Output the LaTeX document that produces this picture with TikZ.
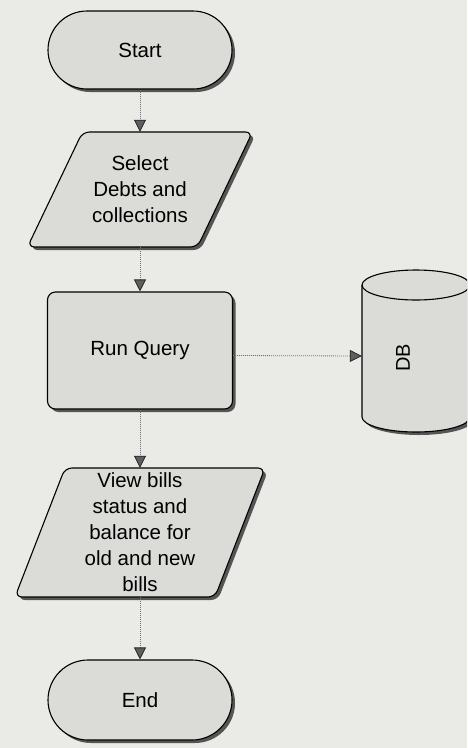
\documentclass[tikz,border=0pt]{standalone}
\usepackage{fontspec}
\setmainfont{Liberation Sans}
\usetikzlibrary{shapes.misc,shadows,arrows.meta,calc}
\definecolor{paper}{RGB}{234,234,231}
\definecolor{boxfill}{RGB}{219,219,216}
\definecolor{shadowc}{RGB}{85,85,85}
\definecolor{linec}{RGB}{115,115,115}
\definecolor{tipc}{RGB}{95,95,95}
\begin{document}
\begin{tikzpicture}[x=1pt,y=-1pt,
  txt/.style={font=\fontsize{20.5}{26}\selectfont, align=center, inner sep=0pt},
  outline/.style={draw=black, line width=1.1pt, fill=boxfill},
  shadowed/.style={drop shadow={shadow xshift=3pt, shadow yshift=-3pt, fill=shadowc, opacity=1}},
  term/.style={txt, rounded rectangle, outline, shadowed, minimum width=184pt, minimum height=78pt},
  proc/.style={txt, rectangle, rounded corners=8pt, outline, shadowed, minimum width=185pt, minimum height=117pt},
  pgshape/.style={outline, rounded corners=7pt},
  pgshadow/.style={fill=shadowc, rounded corners=7pt, shift={(3,3)}},
  flow/.style={draw=linec, line width=0.8pt, dash pattern=on 1pt off 1pt,
    -{Triangle[width=12pt,length=12pt,fill=tipc,color=black!85]}},
]
\useasboundingbox (0,0) rectangle (467,748);
\clip (0,0) rectangle (467,748);
\fill[paper] (0,0) rectangle (467,748);

% Start
\node[term] (start) at (140,50) {Start};

% Select parallelogram
\fill[pgshadow] (82.5,132) -- (252.5,132) -- (197.5,247) -- (27.5,247) -- cycle;
\draw[pgshape] (82.5,132) -- (252.5,132) -- (197.5,247) -- (27.5,247) -- cycle;
\node[txt, minimum width=170pt, minimum height=115pt] (sel) at (140,189.5) {Select\\Debts and\\collections};

% Run Query
\node[proc] (rq) at (140,350.5) {Run Query};

% DB cylinder
\fill[shadowc, shift={(3,3)}] (362,285) -- (362,417) arc[start angle=180, end angle=0, x radius=54, y radius=15] -- (470,285) arc[start angle=0, end angle=-180, x radius=54, y radius=15] -- cycle;
\draw[outline] (362,285) -- (362,417) arc[start angle=180, end angle=0, x radius=54, y radius=15] -- (470,285) arc[start angle=0, end angle=-180, x radius=54, y radius=15] -- cycle;
\draw[black, line width=1.1pt] (362,285) arc[start angle=180, end angle=0, x radius=54, y radius=15];
\node[minimum width=108pt, minimum height=162pt, inner sep=0pt] (db) at (416,351) {};
\node[font=\fontsize{20}{24}\selectfont, rotate=90, inner sep=0pt] (dblabel) at (403,358) {DB};

% View parallelogram
\fill[pgshadow] (65,468) -- (265,468) -- (215,597) -- (15,597) -- cycle;
\draw[pgshape] (65,468) -- (265,468) -- (215,597) -- (15,597) -- cycle;
\node[txt, minimum width=200pt, minimum height=129pt] (view) at (140,532.5) {View bills\\status and\\balance for\\old and new\\bills};

% End
\node[term, minimum height=80pt] (end) at (140,700) {End};

% connectors
\draw[flow] (start.south) -- (sel.north);
\draw[flow] (sel.south) -- (rq.north);
\draw[flow] ([yshift=-5pt]rq.east) -- ([yshift=-5pt]db.west);
\draw[flow] (rq.south) -- (view.north);
\draw[flow] (view.south) -- (end.north);
\end{tikzpicture}
\end{document}
